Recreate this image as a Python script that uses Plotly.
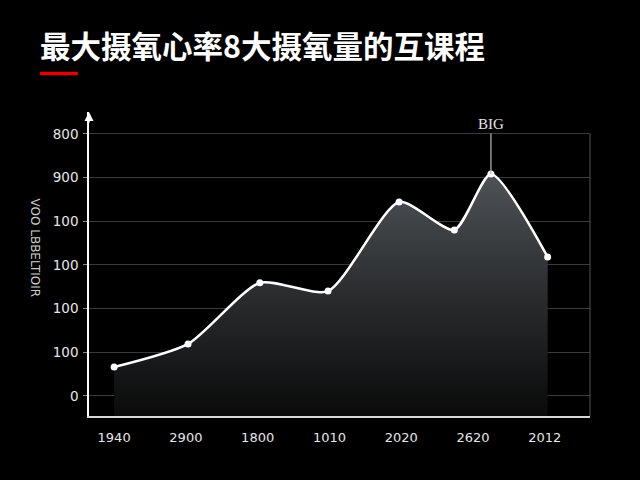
import plotly.graph_objects as go

# data (positions in tick units)
x_pos = [0, 1.03, 2.03, 2.98, 3.97, 4.74, 5.25, 6.04]
values = [0.66, 1.19, 2.59, 2.40, 4.44, 3.80, 5.08, 3.18]
x_ticks = [0, 1, 2, 3, 4, 5, 6]
x_labels = ["1940", "2900", "1800", "1010", "2020", "2620", "2012"]
y_ticks = [0, 1, 2, 3, 4, 5, 6]
y_labels = ["0", "100", "100", "100", "100", "900", "800"]
peak_idx = 6
peak_label = "BIG"
title = "最大摄氧心率8大摄氧量的互课程"
y_title = "VOO LBBELTIOIR"

y_min, y_max = -0.46, 6.5
x_min, x_max = -0.35, 6.63

fig = go.Figure()

# baseline so the fill reaches the x axis line
fig.add_trace(go.Scatter(
    x=[x_pos[0], x_pos[-1]], y=[y_min, y_min],
    mode="lines", line=dict(width=0), hoverinfo="skip", showlegend=False,
))
fig.add_trace(go.Scatter(
    x=x_pos, y=values,
    mode="lines+markers",
    line=dict(color="white", width=2.5, shape="spline", smoothing=0.65),
    marker=dict(color="white", size=7),
    fill="tonexty",
    fillgradient=dict(type="vertical",
                      colorscale=[[0, "#0a0a0a"], [0.5, "#2a2c2e"], [1, "#4e5256"]]),
    showlegend=False,
))

fig.update_layout(
    width=640, height=480,
    paper_bgcolor="black", plot_bgcolor="black",
    margin=dict(l=89, r=50, t=112, b=64),
    font=dict(family="DejaVu Sans", color="#e6e6e6", size=13),
    title=dict(text=title, x=40 / 640, xanchor="left", y=1 - 47 / 480, yanchor="middle",
               font=dict(family="Noto Sans CJK SC", size=30.5, color="white", weight="bold")),
    xaxis=dict(range=[x_min, x_max], tickvals=x_ticks, ticktext=x_labels,
               showgrid=False, zeroline=False, showline=True, linecolor="#d8d8d8",
               linewidth=2, ticks="", ticklabelstandoff=8,
               tickfont=dict(size=13, color="#e6e6e6")),
    yaxis=dict(range=[y_min, y_max], tickvals=y_ticks, ticktext=y_labels,
               showgrid=True, gridcolor="#3a3a3a", gridwidth=1, zeroline=False,
               showline=True, linecolor="white", linewidth=1.5,
               ticks="outside", ticklen=4, tickcolor="#888888", ticklabelstandoff=2,
               tickfont=dict(size=13.5, color="#e6e6e6")),
    shapes=[
        dict(type="line", xref="paper", yref="paper", x0=-0.0978, x1=-0.022,
             y0=1.1266, y1=1.1266, line=dict(color="#e00000", width=3.5)),
        dict(type="line", xref="paper", yref="y", x0=1, x1=1, y0=y_min, y1=y_ticks[-1],
             line=dict(color="#555555", width=1)),
    ],
    annotations=[
        dict(x=0, y=1, xref="paper", yref="paper", text="", showarrow=True,
             ax=0, ay=12, arrowhead=2, arrowsize=1.2, arrowwidth=1.5, arrowcolor="white"),
        dict(x=x_pos[peak_idx], y=values[peak_idx], text=peak_label, showarrow=True,
             ax=0, ay=-50, arrowhead=0, arrowwidth=1.2, arrowcolor="#bbbbbb",
             font=dict(family="Liberation Serif", size=15, color="#e6e6e6")),
        dict(x=-0.125, y=0.553, xref="paper", yref="paper", text=y_title,
             showarrow=False, textangle=90, font=dict(size=12, color="#cccccc")),
    ],
)

fig.write_html(
    "out.html",
    config={"displayModeBar": False},
    post_script="document.body.style.margin='0';document.body.style.background='black';",
)
